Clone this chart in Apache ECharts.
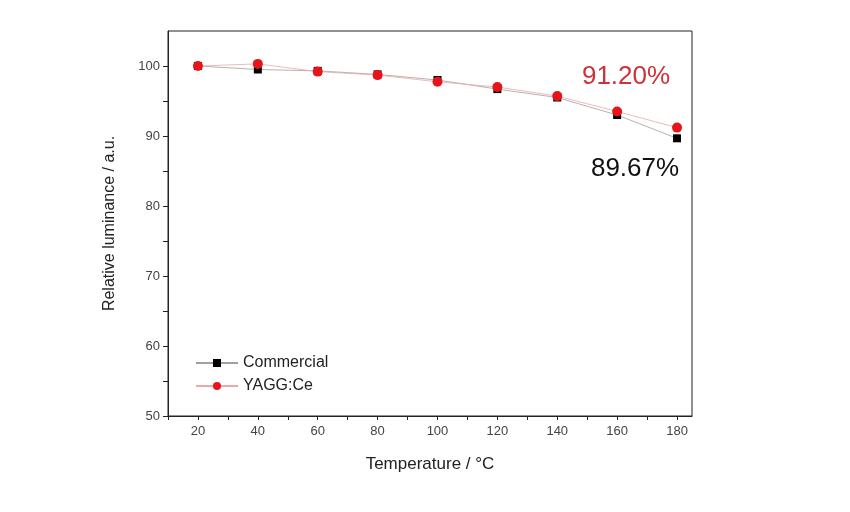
<!DOCTYPE html>
<html><head><meta charset="utf-8">
<script src="https://cdn.jsdelivr.net/npm/echarts@6/dist/echarts.min.js"></script>
<style>html,body{margin:0;padding:0;background:#fff}#c{width:850px;height:512px}</style>
</head><body><div id="c"></div>
<script>
var temperatures = [20, 40, 60, 80, 100, 120, 140, 160, 180];
var commercial = [100.0, 99.5, 99.3, 98.8, 98.0, 96.7, 95.5, 93.0, 89.67];
var yaggCe = [100.0, 100.3, 99.2, 98.7, 97.75, 97.0, 95.7, 93.5, 91.2];
var xTickLabels = [20, 40, 60, 80, 100, 120, 140, 160, 180];
var xTickMarks = [10, 20, 30, 40, 50, 60, 70, 80, 90, 100, 110, 120, 130, 140, 150, 160, 170, 180];
var yTickLabels = [50, 60, 70, 80, 90, 100];
var yTickMarks = [50, 55, 60, 65, 70, 75, 80, 85, 90, 95, 100];
var seriesNames = ['Commercial', 'YAGG:Ce'];
var endLabels = ['89.67%', '91.20%'];

var font = 'Liberation Sans, Arial, sans-serif';

function build(xs, ys, labelText, labelStyle) {
  return xs.map(function (x, i) {
    var item = { value: [x, ys[i]] };
    if (i === xs.length - 1) {
      item.label = Object.assign({ show: true, formatter: labelText, position: 'inside', fontFamily: font, fontSize: 26 }, labelStyle);
    }
    return item;
  });
}

var chart = echarts.init(document.getElementById('c'), null, { renderer: 'canvas' });
chart.setOption({
  animation: false,
  backgroundColor: '#fff',
  grid: { left: 168, right: 158, top: 31, bottom: 96, show: true, borderColor: '#222', borderWidth: 1, backgroundColor: 'transparent' },
  legend: {
    left: 190, top: 350, orient: 'vertical', itemGap: 7, itemWidth: 42, itemHeight: 10,
    textStyle: { fontFamily: font, fontSize: 16, color: '#222' },
    data: seriesNames
  },
  xAxis: {
    type: 'value', min: 10, max: 185,
    name: 'Temperature / °C', nameLocation: 'middle', nameGap: 40,
    nameTextStyle: { fontFamily: font, fontSize: 17, color: '#222' },
    axisLine: { show: true, lineStyle: { color: '#222', width: 1 } },
    axisTick: { show: true, length: 4, customValues: xTickMarks, lineStyle: { color: '#222' } },
    axisLabel: { customValues: xTickLabels, fontFamily: font, fontSize: 13, color: '#444', margin: 9 },
    splitLine: { show: false }
  },
  yAxis: {
    type: 'value', min: 50, max: 105,
    name: 'Relative luminance / a.u.', nameLocation: 'middle', nameGap: 50, nameRotate: 90,
    nameTextStyle: { fontFamily: font, fontSize: 16, color: '#222' },
    axisLine: { show: true, lineStyle: { color: '#222', width: 1 } },
    axisTick: { show: true, length: 5, customValues: yTickMarks, lineStyle: { color: '#222' } },
    axisLabel: { customValues: yTickLabels, fontFamily: font, fontSize: 13, color: '#444', margin: 8 },
    splitLine: { show: false }
  },
  series: [
    {
      name: seriesNames[0], type: 'line',
      data: build(temperatures, commercial, endLabels[0], { offset: [-42, 31], color: '#111' }),
      symbol: 'rect', symbolSize: 8, z: 2,
      itemStyle: { color: '#000' },
      lineStyle: { color: '#a0a0a0', width: 0.8 }
    },
    {
      name: seriesNames[1], type: 'line',
      data: build(temperatures, yaggCe, endLabels[1], { offset: [-51, -51], color: '#cc3339' }),
      symbol: 'circle', symbolSize: 10, z: 3,
      itemStyle: { color: '#e8141a' },
      lineStyle: { color: '#eaa8a8', width: 0.8 }
    }
  ]
});
</script></body></html>
